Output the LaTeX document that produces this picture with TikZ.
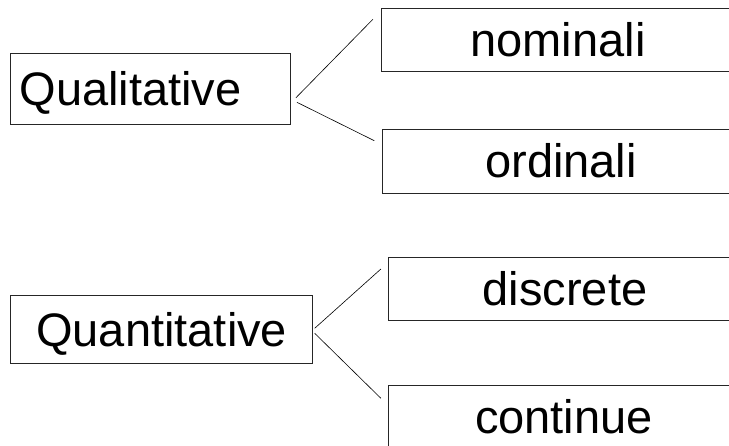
\documentclass[tikz,border=0pt]{standalone}
\usepackage{fontspec}
\setmainfont{Liberation Sans}
\usetikzlibrary{calc}
\begin{document}
\begin{tikzpicture}[x=1pt,y=-1pt,
  box/.style={draw=black!85, line width=0.8pt, inner sep=0pt, text height=34pt, text depth=0pt,
    font=\fontsize{47}{51}\selectfont},
  conn/.style={draw=black, line width=0.6pt}]
\useasboundingbox (0,0) rectangle (729,446);
\clip (0,0) rectangle (729,446);
\fill[white] (0,0) rectangle (729,446);
% left boxes
\node[box, minimum width=280pt, minimum height=71pt, text width=262pt, align=left, inner xsep=9pt] (qual) at (150.5,88.8) {Qualitative};
\node[box, minimum width=302pt, minimum height=68pt] (quant) at (161.7,329.2) {Quantitative};
% right boxes
\node[box, minimum width=353.4pt, minimum height=62.7pt] (nom) at (558,39.7) {nominali};
\node[box, minimum width=356.6pt, minimum height=64pt] (ord) at (561,161) {ordinali};
\node[box, minimum width=353.4pt, minimum height=63pt] (disc) at (565,288.7) {discrete};
\node[box, minimum width=351.4pt, minimum height=63pt] (cont) at (564,417) {continue};
% connector end points
\coordinate (qa) at ($(qual.east)+(5,9)$);
\coordinate (qb) at ($(qual.east)+(6,13.5)$);
\coordinate (na) at ($(nom.west)+(-8,-20.4)$);
\coordinate (oa) at ($(ord.west)+(-8,-20.3)$);
\coordinate (ta) at ($(quant.east)+(1.6,-0.9)$);
\coordinate (tb) at ($(quant.east)+(1.6,4.1)$);
\coordinate (da) at ($(disc.west)+(-7,-19.7)$);
\coordinate (ca) at ($(cont.west)+(-7,-18.7)$);
\draw[conn] (qa) -- (na);
\draw[conn] (qb) -- (oa);
\draw[conn] (ta) -- (da);
\draw[conn] (tb) -- (ca);
\end{tikzpicture}
\end{document}
